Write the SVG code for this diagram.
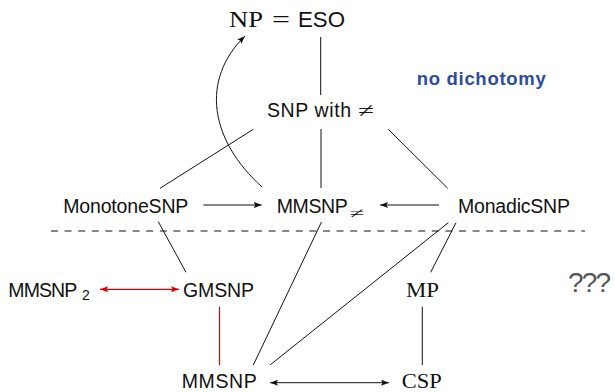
<svg xmlns="http://www.w3.org/2000/svg" width="615" height="392" viewBox="0 0 615 392">
<style>
.s{font-family:"Liberation Sans",Arial,sans-serif;font-size:19.5px;fill:#111}
.m{font-family:"Liberation Serif","Times New Roman",serif;font-size:20px;fill:#111}
.c line,.c path{stroke:#111;stroke-width:1;fill:none}
.c line.r{stroke:#e00000}
</style>
<defs>
<marker id="a" markerUnits="userSpaceOnUse" markerWidth="9" markerHeight="7" refX="8" refY="3" orient="auto-start-reverse"><path d="M0,0 L8,3 L0,6 L1.5,3 z" fill="#111"/></marker>
<marker id="ar" markerUnits="userSpaceOnUse" markerWidth="9" markerHeight="7" refX="8" refY="3" orient="auto-start-reverse"><path d="M0,0 L8,3 L0,6 L1.5,3 z" fill="#e00000"/></marker>
</defs>
<rect width="615" height="392" fill="#fff"/>
<g class="c" id="connectors">
<line x1="320.7" y1="37" x2="320.7" y2="95"/>
<line x1="253.3" y1="129.3" x2="160" y2="188.3"/>
<line x1="321" y1="129" x2="321" y2="188"/>
<line x1="388.3" y1="129.3" x2="447.7" y2="188.3"/>
<line x1="203.3" y1="205" x2="261.7" y2="205" marker-end="url(#a)"/>
<line x1="439" y1="205" x2="380" y2="205" marker-end="url(#a)"/>
<path d="M262,187 C210,140 200,80 245,36" marker-end="url(#a)"/>
<line x1="158.3" y1="221.7" x2="186" y2="272.3"/>
<line x1="321.5" y1="222" x2="253.3" y2="365"/>
<line x1="448.3" y1="222.7" x2="270" y2="365"/>
<line x1="456" y1="222.7" x2="430.7" y2="272.3"/>
<line x1="422.3" y1="306.7" x2="422.3" y2="365"/>
<line class="r" x1="219.5" y1="306.7" x2="219.5" y2="365" style="stroke:#e00000;stroke-width:1.2"/>
<line x1="270" y1="382.7" x2="389" y2="382.7" marker-start="url(#a)" marker-end="url(#a)"/>
<line class="r" x1="100" y1="289.3" x2="179" y2="289.3" style="stroke:#e00000;stroke-width:1.2" marker-start="url(#ar)" marker-end="url(#ar)"/>
<line x1="51" y1="231" x2="585" y2="231" stroke-dasharray="7 6.6"/>
</g>
<g id="np-eso">
<text class="m" x="229" y="27" style="font-size:22.7px" textLength="34" lengthAdjust="spacingAndGlyphs">NP</text>
<text class="m" x="272" y="27" style="font-size:22.7px" textLength="18" lengthAdjust="spacingAndGlyphs">=</text>
<text class="s" x="298" y="27" style="font-size:22.3px" textLength="47" lengthAdjust="spacingAndGlyphs">ESO</text>
</g>
<g id="snp-neq">
<text class="s" x="267" y="117" textLength="84">SNP with</text>
<text class="m" x="358" y="117" textLength="16" lengthAdjust="spacingAndGlyphs">≠</text>
</g>
<g id="no-dichotomy">
<text x="416.7" y="85" font-family="'Liberation Sans',Arial,sans-serif" font-weight="bold" font-size="18.5" fill="#2b4c9e" textLength="129">no dichotomy</text>
</g>
<g id="monotonesnp"><text class="s" x="63.3" y="212.5" textLength="125">MonotoneSNP</text></g>
<g id="mmsnp-neq">
<text class="s" x="276.7" y="212.5" textLength="71">MMSNP</text>
<text class="m" x="349.5" y="218" style="font-size:14px" textLength="15" lengthAdjust="spacingAndGlyphs">≠</text>
</g>
<g id="monadicsnp"><text class="s" x="458" y="212.5" textLength="112">MonadicSNP</text></g>
<g id="mmsnp2">
<text class="s" x="8.3" y="296.5" textLength="69">MMSNP</text>
<text class="s" x="82" y="299.5" style="font-size:14px">2</text>
</g>
<g id="gmsnp"><text class="s" x="183" y="296.5" textLength="71">GMSNP</text></g>
<g id="mp"><text class="m" x="406" y="296.7" textLength="33" lengthAdjust="spacingAndGlyphs">MP</text></g>
<g id="unknown"><text x="568" y="291.7" font-family="'Liberation Sans',Arial,sans-serif" font-size="28" fill="#555" textLength="43">???</text></g>
<g id="mmsnp"><text class="s" x="181.7" y="388" textLength="75">MMSNP</text></g>
<g id="csp"><text class="m" x="401.7" y="388" textLength="40" lengthAdjust="spacingAndGlyphs">CSP</text></g>
</svg>
